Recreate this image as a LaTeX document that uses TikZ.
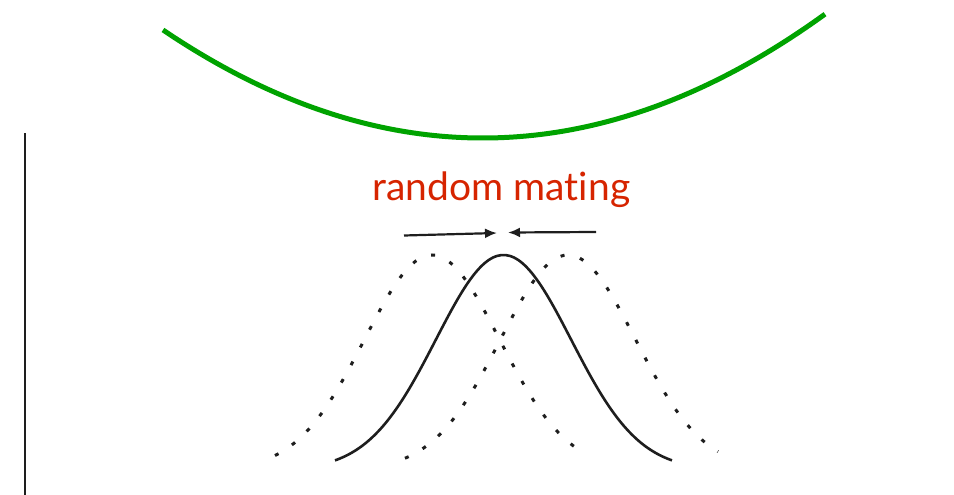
\documentclass[tikz,border=0pt]{standalone}
\usepackage{fontspec}
\setmainfont{Lato}[Ligatures=NoCommon]
\usetikzlibrary{arrows.meta}
\definecolor{fitness}{HTML}{00A300}
\definecolor{mating}{HTML}{D62400}
\definecolor{ink}{HTML}{1E1E1E}
\tikzset{
  land/.style={draw=fitness, line width=5pt},
  axis/.style={draw=ink, line width=2.4pt},
  pop/.style={draw=ink, line width=2.6pt, smooth, samples=80},
  shifted/.style={pop, line width=3pt, dash pattern=on 4pt off 16pt},
  ar/.style={-{Latex[length=12pt,width=10pt]}, line width=2.2pt, draw=ink},
  lbl/.style={font=\fontsize{39}{46}\selectfont, text=mating, inner sep=0pt},
}

\begin{document}
\begin{tikzpicture}[x=1pt, y=-1pt]
\useasboundingbox (0,0) rectangle (954,495);

% --- LANDSCAPE ---
\draw[land] plot[domain=163:825, smooth, samples=60]
  ({\x}, {138-10.57*((\x-482.7)/100)^2});

% --- AXIS ---
\coordinate (axtop) at (25,133);
\coordinate (axbot) at (25,495);
\draw[axis] (axtop) -- (axbot);

% --- LABEL ---
\node[lbl, anchor=base] (rm) at (501.5,200) {random mating};

\coordinate (la) at (404,235.5);
\coordinate (lb) at (497,233);
\coordinate (ra) at (596,232);
\coordinate (rb) at (508,232.5);
\draw[ar] (la) -- (lb);
\draw[ar] (ra) -- (rb);

% --- POPULATIONS ---
\draw[shifted] plot[domain=275:585] ({\x}, {470-215*exp(-((\x-432)/67.6)^2/2)});
\draw[shifted] plot[domain=405:718] ({\x}, {470-215*exp(-((\x-568)/67.6)^2/2)});
\draw[pop] plot[domain=335:672] ({\x}, {470-215*exp(-((\x-503.5)/67.6)^2/2)});

\end{tikzpicture}
\end{document}
